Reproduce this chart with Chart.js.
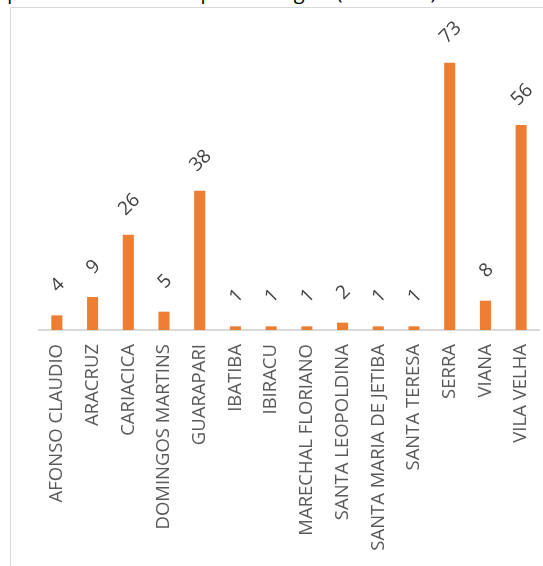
<!DOCTYPE html>
<html>
<head>
<meta charset="utf-8">
<script src="https://cdn.jsdelivr.net/npm/chart.js@4.4.0/dist/chart.umd.min.js"></script>
<style>
  body { margin: 0; background: #fff; overflow: hidden; width: 543px; height: 566px; position: relative; }
  #title { position: absolute; left: 0; top: -22px; font: 20px "Open Sans", sans-serif; color: #000; white-space: nowrap; }
  #box { position: absolute; left: 10px; top: 7px; width: 560px; height: 580px; border: 1px solid #d9d9d9; }
</style>
</head>
<body>
<div id="title">quadro sem vínculo epidemiológico (em 01/05)</div>
<div id="box"><canvas id="myChart" width="560" height="580"></canvas></div>
<script>
var municipios = ['AFONSO CLAUDIO', 'ARACRUZ', 'CARIACICA', 'DOMINGOS MARTINS', 'GUARAPARI', 'IBATIBA', 'IBIRACU',
    'MARECHAL FLORIANO', 'SANTA LEOPOLDINA', 'SANTA MARIA DE JETIBA', 'SANTA TERESA', 'SERRA', 'VIANA', 'VILA VELHA'];
var casos = [4, 9, 26, 5, 38, 1, 1, 1, 2, 1, 1, 73, 8, 56];

// rotulos de valor acima das barras
var valueLabels = {
    id: 'valueLabels',
    afterDatasetsDraw(chart) {
        var ctx = chart.ctx;
        var meta = chart.getDatasetMeta(0);
        ctx.save();
        ctx.fillStyle = '#404040';
        ctx.font = '19px "Open Sans", sans-serif';
        ctx.textAlign = 'center';
        ctx.textBaseline = 'middle';
        meta.data.forEach(function (bar, i) {
            ctx.save();
            ctx.translate(bar.x + 1, bar.y - 30);
            ctx.rotate(-45 * Math.PI / 180);
            ctx.fillText(String(casos[i]), 0, 0);
            ctx.restore();
        });
        ctx.restore();
    }
};

var ctx = document.getElementById('myChart').getContext('2d');
var myChart = new Chart(ctx, {
    type: 'bar',
    data: {
        labels: municipios,
        datasets: [{
            data: casos,
            backgroundColor: '#ed7d31',
            borderWidth: 0,
            barPercentage: 0.31,
            categoryPercentage: 1
        }]
    },
    options: {
        responsive: false,
        animation: false,
        layout: { padding: { left: 28, right: 32, top: 29, bottom: 0 } },
        plugins: { legend: { display: false }, tooltip: { enabled: false } },
        scales: {
            x: {
                grid: { display: false, drawTicks: false },
                border: { display: true, color: '#d9d9d9', width: 2 },
                ticks: {
                    color: '#595959',
                    font: { family: 'Open Sans', size: 18.5 },
                    minRotation: 90,
                    maxRotation: 90,
                    padding: 14,
                    autoSkip: false
                },
                afterFit: function (s) { s.height = 258; }
            },
            y: {
                display: false,
                min: 0,
                max: 80
            }
        }
    },
    plugins: [valueLabels]
});
</script>
</body>
</html>
